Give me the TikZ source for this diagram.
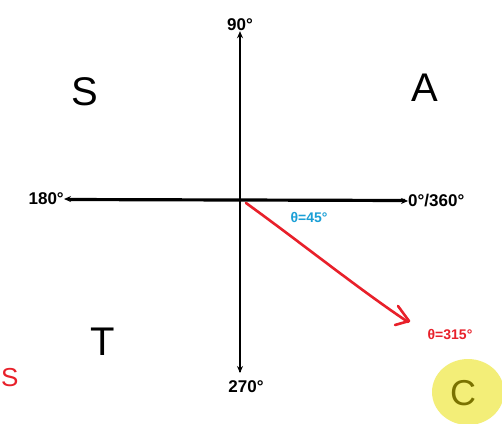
\documentclass[tikz,border=0pt]{standalone}
\usepackage{fontspec}
\setmainfont{Liberation Sans}
\usetikzlibrary{arrows.meta}
\definecolor{penred}{HTML}{E8202A}
\definecolor{penblue}{HTML}{1A9FD6}
\definecolor{hiyellow}{HTML}{F3EE78}
\definecolor{olive}{HTML}{7A7200}
\begin{document}
\begin{tikzpicture}[x=1pt,y=-1pt,
  axis/.style={line width=2.2pt,-{Stealth[length=7pt,width=6pt]}},
  deglabel/.style={font=\bfseries\fontsize{17}{17}\selectfont,inner sep=0pt},
  quad/.style={font=\fontsize{40}{40}\selectfont,inner sep=0pt}]
\useasboundingbox (0,0) rectangle (502,423);
\fill[white] (0,0) rectangle (502,423);
\node[deglabel] (n90) at (240,25) {90°};
\node[deglabel] (n270) at (246,387) {270°};
\node[deglabel,anchor=east] (n180) at (64,199) {180°};
\node[deglabel,anchor=west] (n0) at (408,201) {0°/360°};
\draw[axis] (240,372) -- (n90.south);
\draw[axis] (240,35) -- (240,373);
\draw[axis] (405,200) -- (n180.east);
\draw[axis] (70,200) -- (n0.west);
% quadrant letters
\node[quad] (qs) at (85,92) {S};
\node[quad] (qa) at (425,88) {A};
\node[quad] (qt) at (103,342) {T};
% angle labels
\node[font=\bfseries\fontsize{14}{14}\selectfont,text=penblue,inner sep=0pt] (t45) at (309,217) {θ=45°};
\node[font=\bfseries\fontsize{14}{14}\selectfont,text=penred,inner sep=0pt] (t315) at (450,335) {θ=315°};
\coordinate (rs) at (246,203);
\coordinate (re) at (408,322);
\draw[penred,line width=2.6pt,line cap=round,line join=round] (rs) .. controls (300,242) and (360,290) .. (re);
\draw[penred,line width=2.6pt,line cap=round,line join=round] (398,306) -- (409,321) -- (395,325);
% highlighted C
\fill[hiyellow] (468,392) ellipse (36pt and 33pt);
\node[font=\fontsize{36}{36}\selectfont,text=olive,inner sep=0pt] (qc) at (463,393) {C};
% red S at left edge
\node[font=\fontsize{26}{26}\selectfont,text=penred,inner sep=0pt,anchor=west] (rs2) at (1,378) {S};
\end{tikzpicture}
\end{document}
